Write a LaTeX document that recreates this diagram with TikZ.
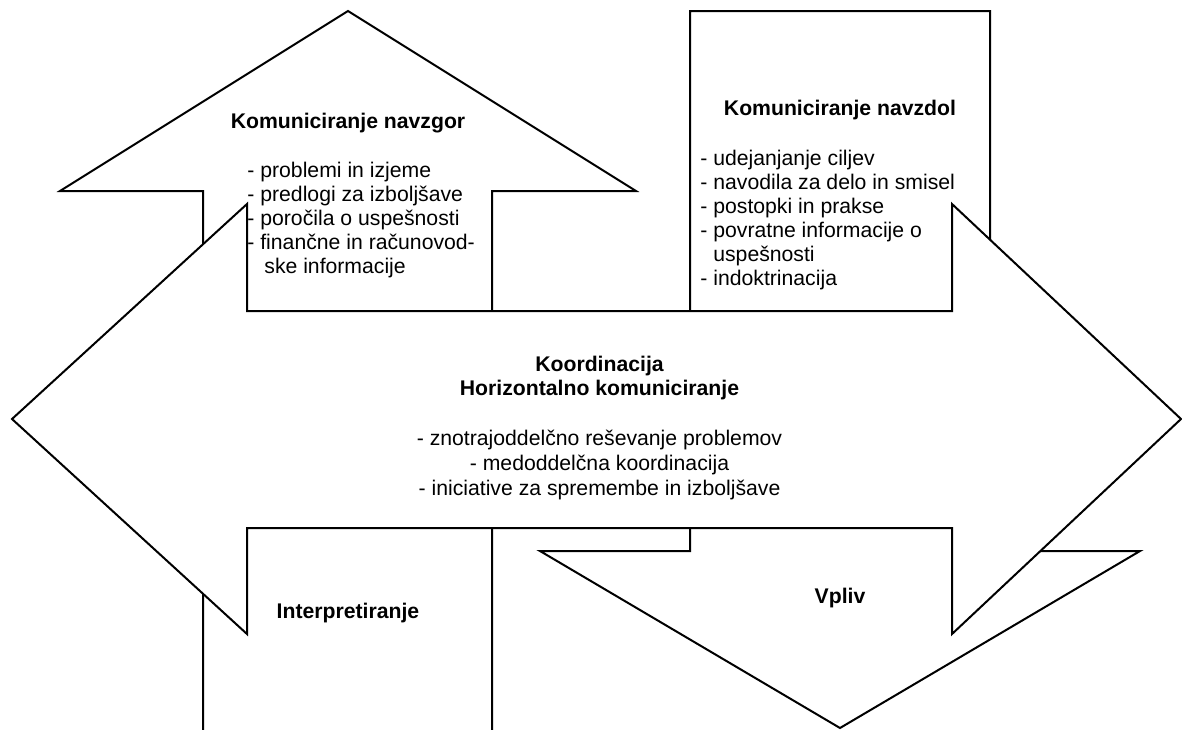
\documentclass[tikz,border=0pt]{standalone}
\usepackage{fontspec}
\setmainfont{Liberation Sans}
\begin{document}
\begin{tikzpicture}[x=0.5pt,y=-0.5pt,
  blockarrow/.style={draw=black,line width=1pt,fill=white,line join=miter},
  heading/.style={inner sep=0pt,font=\fontsize{10.6}{12.3}\selectfont\bfseries,align=center},
  items/.style={inner sep=0pt,align=left,anchor=west,font=\fontsize{10.6}{12}\selectfont},
  centred/.style={inner sep=0pt,font=\fontsize{10.6}{12.3}\selectfont,align=center}]
\useasboundingbox (0,0) rectangle (1182,729);
\clip (0,0) rectangle (1182,729);

% upward arrow (its shaft runs off the bottom edge)
\draw[blockarrow] (348,11) -- (636,191) -- (492,191) -- (492,760)
  -- (203,760) -- (203,191) -- (60,191) -- cycle;

% downward arrow
\draw[blockarrow] (690,11) -- (990,11) -- (990,551) -- (1140,551)
  -- (840,728) -- (540,551) -- (690,551) -- cycle;

% horizontal double arrow on top
\draw[blockarrow] (12,419) -- (247,204) -- (247,311) -- (952,311)
  -- (952,204) -- (1181,419) -- (952,634) -- (952,528) -- (247,528)
  -- (247,634) -- cycle;

% upward communication
\node[heading] (upT) at (348,123) {Komuniciranje navzgor};
\node[items] (upL) at (247,220.5) {- problemi in izjeme\\
  - predlogi za izboljšave\\
  - poročila o uspešnosti\\
  - finančne in računovod-\\
  \hspace*{8.5pt}ske informacije};

% downward communication
\node[heading] (downT) at (840,110) {Komuniciranje navzdol};
\node[items] (downL) at (700,220.5) {- udejanjanje ciljev\\
  - navodila za delo in smisel\\
  - postopki in prakse\\
  - povratne informacije o\\
  \phantom{- }uspešnosti\\
  - indoktrinacija};

% horizontal communication
\node[heading] (horT) at (599.5,378) {Koordinacija\\Horizontalno komuniciranje};
\node[centred] (horL) at (599.5,465) {- znotrajoddelčno reševanje problemov\\
  - medoddelčna koordinacija\\
  - iniciative za spremembe in izboljšave};

% shaft labels
\node[heading] (interp) at (348,613) {Interpretiranje};
\node[heading] (vpliv) at (840,598) {Vpliv};
\end{tikzpicture}
\end{document}
